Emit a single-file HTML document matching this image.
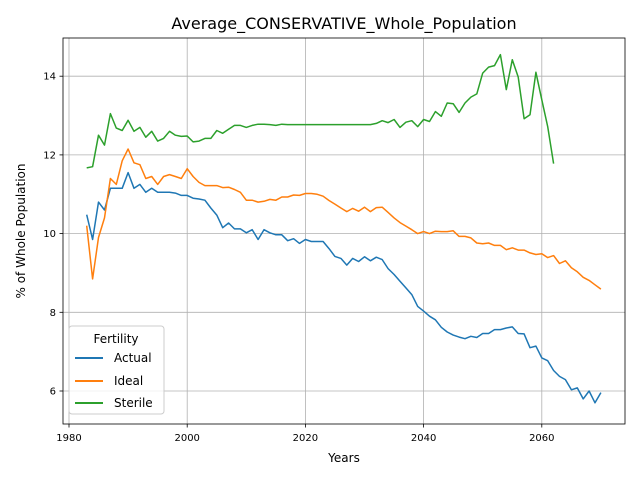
<!DOCTYPE html>
<html><head><meta charset="utf-8"><style>
body{margin:0;background:#fff;font-family:"Liberation Sans","DejaVu Sans",sans-serif}
svg text{font-family:"DejaVu Sans","Liberation Sans",sans-serif}
</style></head><body>
<svg id="chart" width="640" height="480" xmlns="http://www.w3.org/2000/svg">
<rect width="640" height="480" fill="#fff"/>
<g id="grid"></g>
<g id="lines"></g>
<rect x="63" y="38" width="562" height="386" fill="none" stroke="#000" stroke-width="0.8"/>
<g id="ticks"></g>
<text x="344" y="29" text-anchor="middle" font-size="16">Average_CONSERVATIVE_Whole_Population</text>
<text x="344" y="462" text-anchor="middle" font-size="12">Years</text>
<text transform="translate(25,231) rotate(-90)" text-anchor="middle" font-size="12">% of Whole Population</text>
<g>
<rect x="69" y="326" width="95" height="88" rx="3" fill="#fff" fill-opacity="0.8" stroke="#ccc"/>
<text x="116" y="343" text-anchor="middle" font-size="12">Fertility</text>
<g><line x1="75" x2="103" y1="358" y2="358" stroke="#1f77b4" stroke-width="2"/><text x="114" y="362" font-size="12">Actual</text></g>
<g><line x1="75" x2="103" y1="381" y2="381" stroke="#ff7f0e" stroke-width="2"/><text x="114" y="385" font-size="12">Ideal</text></g>
<g><line x1="75" x2="103" y1="403" y2="403" stroke="#2ca02c" stroke-width="2"/><text x="114" y="407" font-size="12">Sterile</text></g>
</g>
</svg>
<script>
const startYear = 1983;
const actual = [10.48,9.85,10.8,10.6,11.15,11.15,11.15,11.55,11.15,11.25,11.05,11.15,11.05,11.05,11.05,11.03,10.97,10.97,10.9,10.88,10.85,10.65,10.47,10.15,10.27,10.12,10.12,10.02,10.1,9.85,10.1,10.02,9.97,9.97,9.82,9.87,9.75,9.85,9.8,9.8,9.8,9.62,9.42,9.37,9.2,9.37,9.29,9.41,9.31,9.4,9.34,9.11,8.96,8.79,8.62,8.45,8.15,8.03,7.9,7.81,7.62,7.5,7.42,7.37,7.33,7.39,7.36,7.46,7.46,7.56,7.56,7.6,7.63,7.46,7.45,7.1,7.14,6.84,6.77,6.52,6.37,6.29,6.03,6.08,5.8,6.0,5.7,5.96];
const ideal = [10.2,8.85,9.9,10.4,11.4,11.25,11.85,12.15,11.8,11.75,11.4,11.45,11.25,11.45,11.5,11.45,11.4,11.65,11.45,11.3,11.22,11.22,11.22,11.17,11.18,11.12,11.05,10.85,10.85,10.8,10.82,10.87,10.85,10.93,10.93,10.98,10.97,11.02,11.02,11.0,10.95,10.84,10.75,10.65,10.56,10.64,10.57,10.67,10.56,10.66,10.67,10.54,10.4,10.28,10.19,10.1,10.0,10.05,10.0,10.06,10.05,10.05,10.07,9.93,9.93,9.89,9.76,9.74,9.76,9.7,9.7,9.59,9.64,9.58,9.58,9.51,9.47,9.49,9.39,9.44,9.24,9.31,9.13,9.03,8.89,8.81,8.7,8.59];
const sterile = [11.67,11.7,12.5,12.25,13.05,12.68,12.62,12.88,12.6,12.7,12.45,12.6,12.35,12.42,12.6,12.5,12.47,12.48,12.33,12.35,12.42,12.42,12.62,12.55,12.65,12.75,12.75,12.7,12.75,12.78,12.78,12.77,12.75,12.78,12.77,12.77,12.77,12.77,12.77,12.77,12.77,12.77,12.77,12.77,12.77,12.77,12.77,12.77,12.77,12.8,12.87,12.82,12.9,12.7,12.83,12.87,12.72,12.9,12.85,13.1,12.98,13.32,13.3,13.08,13.32,13.47,13.55,14.08,14.23,14.27,14.55,13.66,14.42,13.98,12.92,13.02,14.1,13.4,12.72,11.78];
const xTicks = [1980,2000,2020,2040,2060];
const yTicks = [6,8,10,12,14];
const NS = "http://www.w3.org/2000/svg";
function xs(v){return 69 + (v-1980)*5.91;}
function ys(v){return 391 - (v-6)*39.35;}
function mk(tag, attrs, parent){const e=document.createElementNS(NS,tag);for(const k in attrs)e.setAttribute(k,attrs[k]);parent.appendChild(e);return e;}
const grid=document.getElementById('grid'), ticks=document.getElementById('ticks'), lines=document.getElementById('lines');
xTicks.forEach(t=>{
  const g=mk('line',{x1:xs(t),x2:xs(t),y1:38,y2:424,stroke:'#b0b0b0','stroke-width':0.8},grid);
  
  
  mk('line',{x1:xs(t),x2:xs(t),y1:424,y2:427.5,stroke:'#000','stroke-width':0.8},ticks);
  const tx=mk('text',{x:xs(t),y:441,'text-anchor':'middle','font-size':10},ticks);
  tx.textContent=t;
  
  
});
yTicks.forEach(t=>{
  const g=mk('line',{x1:63,x2:625,y1:ys(t),y2:ys(t),stroke:'#b0b0b0','stroke-width':0.8},grid);
  
  
  mk('line',{x1:59.5,x2:63,y1:ys(t),y2:ys(t),stroke:'#000','stroke-width':0.8},ticks);
  const tx=mk('text',{x:56,y:ys(t)+3.5,'text-anchor':'end','font-size':10},ticks);
  tx.textContent=t;
  
  
});
function draw(arr,color,name){
  const pts=arr.map((v,i)=>xs(startYear+i).toFixed(1)+','+ys(v).toFixed(1)).join(' ');
  const p=mk('polyline',{points:pts,fill:'none',stroke:color,'stroke-width':1.5,'stroke-linejoin':'round'},lines);
  
  
}
draw(actual,'#1f77b4','actual-line');
draw(ideal,'#ff7f0e','ideal-line');
draw(sterile,'#2ca02c','sterile-line');
</script>
</body></html>
